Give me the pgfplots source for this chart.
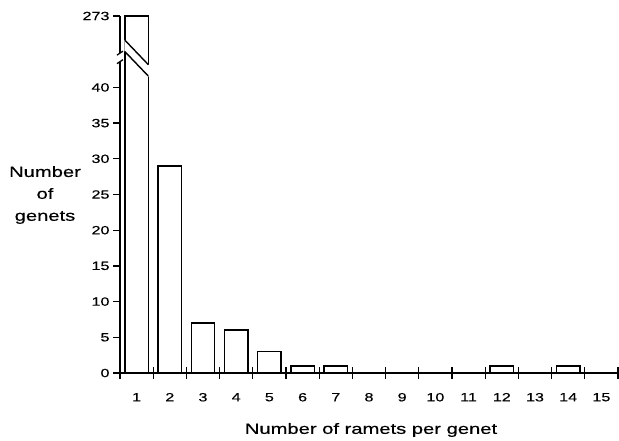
\documentclass[border=0pt]{standalone}
\usepackage{fontspec}
\setmainfont{Liberation Sans}[FakeStretch=1.35, FakeBold=0.4]
\usepackage{pgfplots}
\pgfplotsset{compat=1.18}
\begin{document}
\begin{tikzpicture}
\begin{axis}[
  scale only axis,
  width=498bp, height=357bp,
  xmin=0.5, xmax=15.5, ymin=0, ymax=50,
  axis x line=bottom, axis y line=left,
  x axis line style={-}, y axis line style={-},
  axis line style={line width=1.4pt},
  ybar, bar width=0.7,
  xtick={1,...,15},
  minor xtick={0.5,1.5,...,15.5},
  ytick={0,5,10,15,20,25,30,35,40,50},
  yticklabels={0,5,10,15,20,25,30,35,40,273},
  tick align=outside,
  xtick align=center,
  major tick length=7bp,
  minor tick length=12bp,
  tick style={line width=1.3pt, black},
  major x tick style={draw=none},
  /pgf/number format/assume math mode=true,
  ticklabel style={font=\fontsize{12}{14}\selectfont},
  xticklabel style={yshift=-13bp},
]
  \addplot[fill=white, draw=black, line width=1.4pt] coordinates {
    (1,50) (2,29) (3,7) (4,6) (5,3) (6,1) (7,1) (12,1) (14,1)
  };
  % break marks (bar 1 holds 273, drawn at 50)
  \coordinate (o) at (axis cs:0.5,0);
  \coordinate (a1) at (axis cs:0.63,46.7);
  \coordinate (a2) at (axis cs:1.37,43.1);
  \coordinate (a3) at (axis cs:1.37,41.5);
  \coordinate (a4) at (axis cs:0.63,45.1);
  \coordinate (d1) at (axis cs:0.65,46.6);
  \coordinate (d2) at (axis cs:1.35,43.2);
  \coordinate (d3) at (axis cs:0.65,45.0);
  \coordinate (d4) at (axis cs:1.35,41.6);
  \coordinate (g1) at (axis cs:0.5,44.8);
  \coordinate (g2) at (axis cs:0.5,43.6);
\end{axis}
\fill[white] (a1) -- (a2) -- (a3) -- (a4) -- cycle;
\draw[line width=1.4pt] (d1) -- (d2) (d3) -- (d4);
\fill[white] ([xshift=-2bp]g1) rectangle ([xshift=2bp]g2);
\draw[line width=1.3pt] ([shift={(-3bp,-2bp)}]g1) -- ([shift={(3bp,2bp)}]g1)
  ([shift={(-3bp,-2bp)}]g2) -- ([shift={(3bp,2bp)}]g2);
\node[align=center, font=\fontsize{15}{22}\selectfont] at ([shift={(-75bp,178bp)}]o) {Number\\of\\genets};
\node[font=\fontsize{15}{17}\selectfont] at ([shift={(251bp,-57bp)}]o) {Number of ramets per genet};
\pgfresetboundingbox
\path[use as bounding box] ([shift={(-120bp,-68bp)}]o) rectangle ++(619bp,441bp);
\end{tikzpicture}
\end{document}
